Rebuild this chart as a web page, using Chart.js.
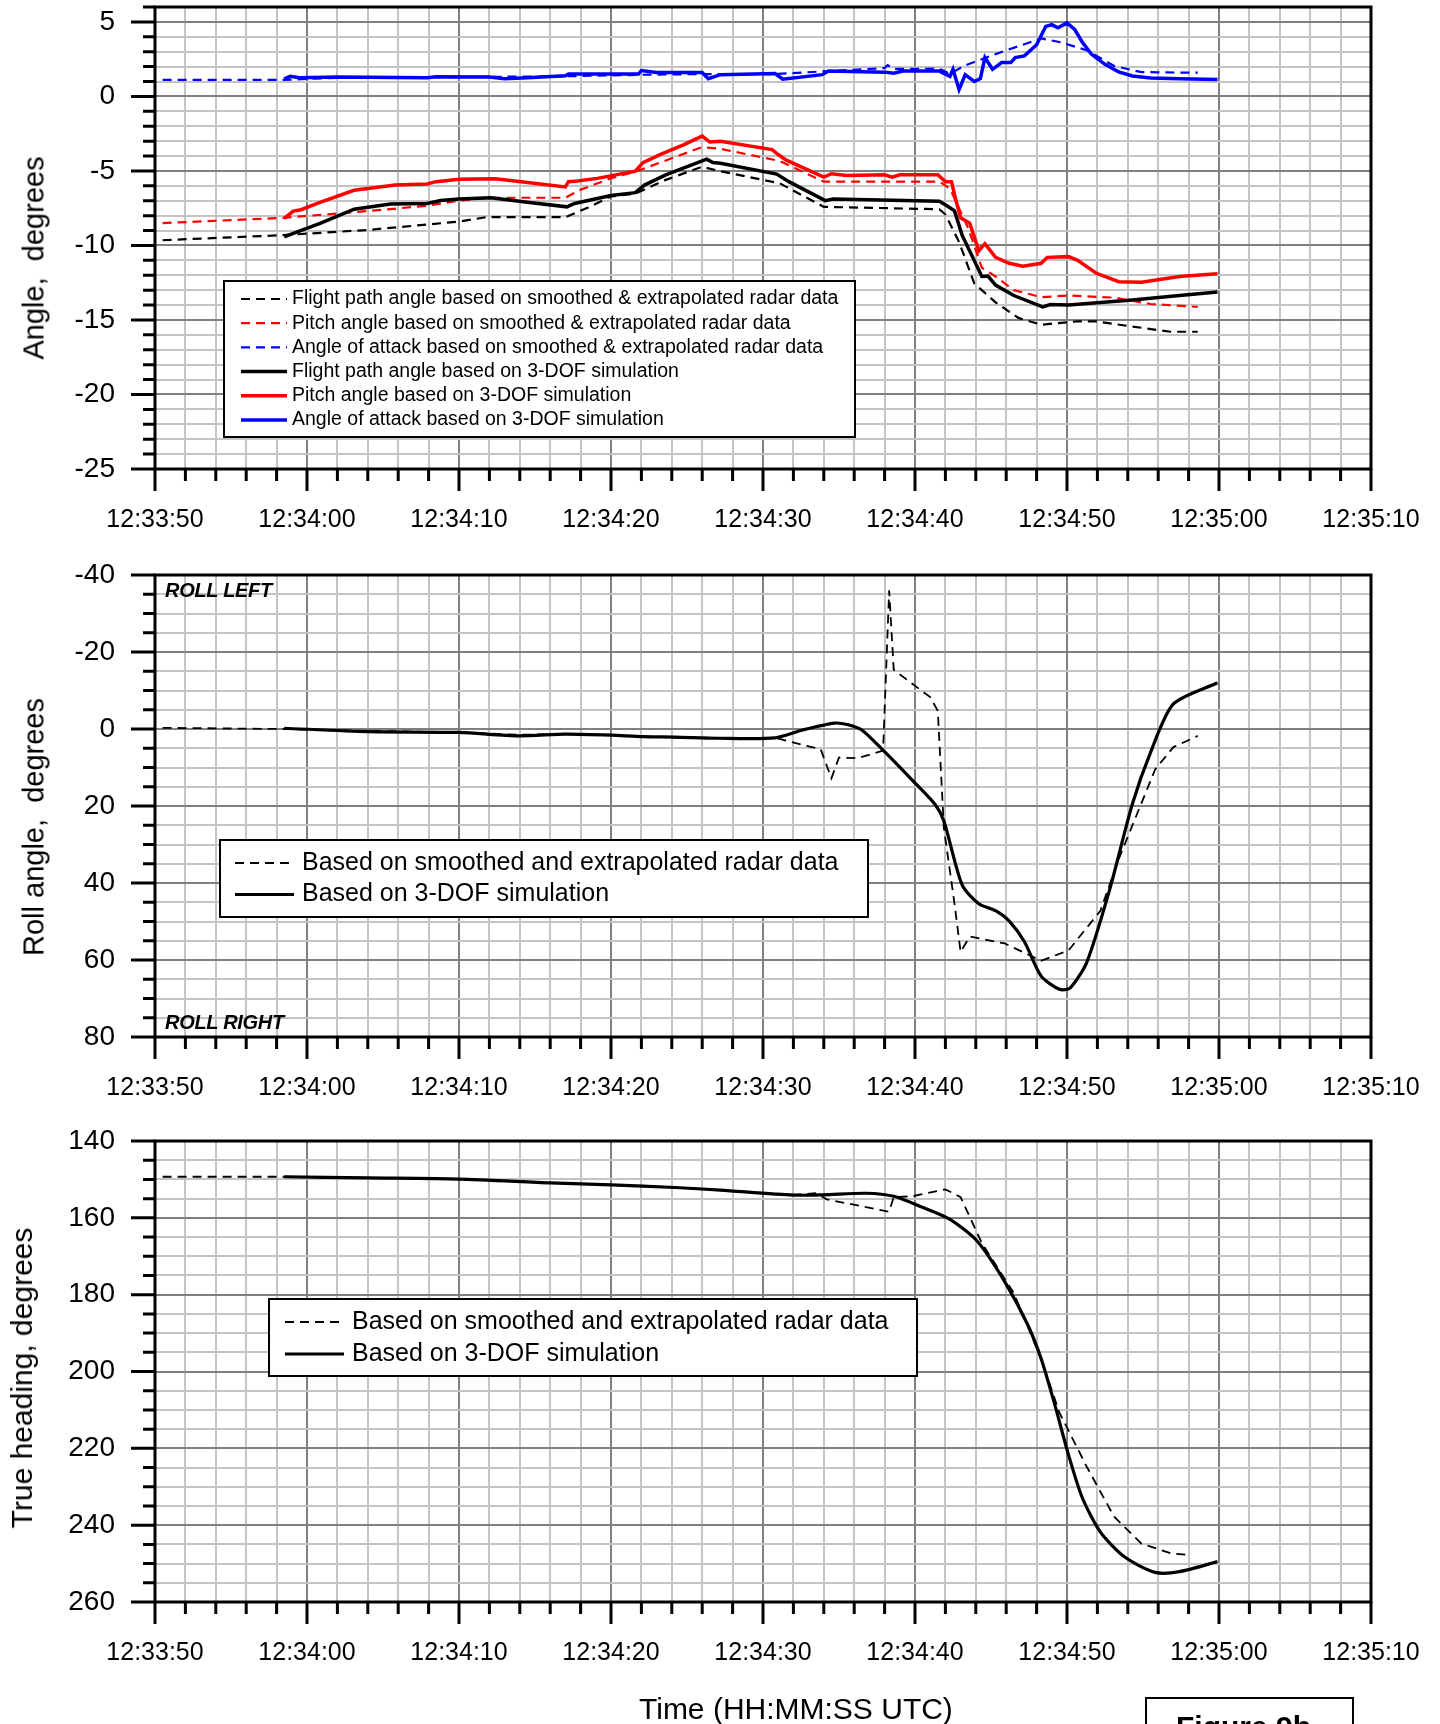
<!DOCTYPE html>
<html>
<head>
<meta charset="utf-8">
<title>Angles, roll and heading</title>
<script src="https://cdn.jsdelivr.net/npm/chart.js@4.4.0/dist/chart.umd.min.js"></script>
<style>
html, body { margin: 0; padding: 0; background: #fff; }
body { position: relative; width: 1440px; height: 1724px; overflow: hidden; font-family: "Liberation Sans", Arial, sans-serif; color: #000; }
canvas { position: absolute; left: 0; }
.ytitle { position: absolute; white-space: nowrap; transform: translate(-50%, -50%) rotate(-90deg); font-size: 29px; }
.roll { position: absolute; font-weight: bold; font-style: italic; font-size: 20px; line-height: 20px; letter-spacing: -0.3px; white-space: nowrap; }
#xtitle { position: absolute; left: 639px; top: 1694px; font-size: 30px; line-height: 30px; white-space: nowrap; }
#fig { position: absolute; left: 1145px; top: 1697px; width: 209px; height: 60px; box-sizing: border-box; border: 2px solid #000; padding: 10px 12px 0 0; text-align: center; font-weight: bold; font-size: 30px; line-height: 36px; }
</style>
</head>
<body>
<canvas id="angles" width="1440" height="560" style="top:0px"></canvas>
<canvas id="roll" width="1440" height="565" style="top:560px"></canvas>
<canvas id="heading" width="1440" height="599" style="top:1125px"></canvas>

<div class="ytitle" style="left:34px; top:258px">Angle,&nbsp; degrees</div>
<div class="ytitle" style="left:34px; top:827px">Roll angle,&nbsp; degrees</div>
<div class="ytitle" style="left:22px; top:1378px; font-size:30px">True heading, degrees</div>
<div class="roll" style="left:165px; top:580px">ROLL LEFT</div>
<div class="roll" style="left:165px; top:1012px">ROLL RIGHT</div>
<div id="xtitle">Time (HH:MM:SS UTC)</div>
<div id="fig">Figure 9b</div>

<script>
Chart.defaults.font.family = '"Liberation Sans", Arial, sans-serif';
Chart.defaults.color = '#000';

var timeLabels = ['12:33:50', '12:34:00', '12:34:10', '12:34:20', '12:34:30', '12:34:40', '12:34:50', '12:35:00', '12:35:10'];

// time is in seconds after 12:33:50

// flight path angle, radar
var fpaRadarSec = [0.5, 8.4, 14.0, 20.0, 21.8, 27.0, 28.5, 30.0, 31.6, 33.6, 36.0, 37.2, 41.1, 44.0, 51.6, 52.0, 52.9, 53.9, 55.3, 56.8, 58.3, 60.7, 61.9, 64.3, 66.8, 68.6];
var fpaRadarDeg = [-9.65, -9.31, -8.96, -8.4, -8.1, -8.1, -7.45, -6.71, -6.53, -5.6, -4.72, -5.02, -5.83, -7.41, -7.57, -7.92, -9.77, -12.55, -13.82, -14.86, -15.32, -15.09, -15.1, -15.44, -15.79, -15.79];

// pitch angle, radar
var pitchRadarSec = [0.5, 8.4, 14.0, 17.9, 20.0, 22.0, 27.0, 27.9, 30.0, 31.6, 36.0, 37.2, 41.1, 44.0, 51.6, 52.3, 53.5, 54.4, 55.3, 56.5, 58.3, 60.1, 63.1, 65.5, 68.6];
var pitchRadarDeg = [-8.5, -8.15, -7.69, -7.34, -6.99, -6.8, -6.8, -6.3, -5.49, -5.05, -3.4, -3.52, -4.33, -5.72, -5.72, -6.18, -8.84, -11.5, -12.08, -13.0, -13.47, -13.36, -13.5, -13.93, -14.12];

// angle of attack, radar
var aoaRadarSec = [0.5, 8.4, 12.0, 20.0, 27.0, 31.8, 36.0, 40.8, 44.3, 48.0, 48.2, 48.6, 51.6, 52.3, 53.2, 55.3, 58.3, 59.5, 61.3, 63.1, 64.9, 68.6];
var aoaRadarDeg = [1.11, 1.11, 1.25, 1.3, 1.35, 1.45, 1.5, 1.5, 1.7, 1.9, 2.1, 1.85, 1.86, 1.5, 2.04, 2.84, 3.89, 3.65, 3.1, 2.04, 1.63, 1.59];

// flight path angle, 3-DOF
var fpaSimSec = [8.5, 9.1, 10.9, 13.1, 15.5, 17.9, 18.8, 20.0, 22.1, 24.5, 27.1, 27.6, 30.0, 31.6, 32.2, 33.6, 35.1, 36.3, 36.7, 37.2, 40.9, 41.7, 44.1, 44.6, 51.6, 52.1, 52.6, 53.1, 54.4, 54.8, 55.3, 56.5, 58.4, 58.9, 60.1, 64.3, 67.4, 69.9];
var fpaSimDeg = [-9.42, -9.19, -8.5, -7.57, -7.22, -7.18, -6.99, -6.88, -6.8, -7.1, -7.41, -7.18, -6.65, -6.46, -5.95, -5.26, -4.68, -4.21, -4.44, -4.49, -5.21, -5.72, -6.99, -6.88, -7.04, -7.34, -7.68, -9.31, -12.08, -12.05, -12.66, -13.36, -14.12, -13.97, -14.0, -13.66, -13.36, -13.12];

// pitch angle, 3-DOF
var pitchSimSec = [8.5, 9.1, 9.6, 10.9, 13.1, 15.8, 17.9, 18.5, 20.0, 22.4, 24.5, 27.0, 27.2, 27.8, 29.1, 31.6, 32.1, 33.3, 34.8, 36.0, 36.5, 37.2, 40.6, 41.0, 41.5, 44.0, 44.5, 45.5, 48.0, 48.5, 49.0, 51.5, 52.0, 52.4, 52.7, 53.0, 53.6, 54.2, 54.6, 55.3, 56.2, 57.1, 58.3, 58.7, 60.1, 60.7, 61.9, 63.4, 64.9, 67.4, 69.9];
var pitchSimDeg = [-8.19, -7.69, -7.6, -7.1, -6.3, -5.95, -5.88, -5.72, -5.56, -5.53, -5.78, -6.07, -5.72, -5.68, -5.5, -5.02, -4.44, -3.87, -3.24, -2.66, -3.06, -3.01, -3.57, -3.9, -4.26, -5.42, -5.19, -5.3, -5.26, -5.42, -5.26, -5.26, -5.72, -5.72, -6.99, -8.15, -8.5, -10.35, -9.88, -10.8, -11.2, -11.39, -11.2, -10.8, -10.75, -11.0, -11.85, -12.43, -12.47, -12.08, -11.9];

// angle of attack, 3-DOF
var aoaSimSec = [8.5, 8.9, 9.5, 12.0, 17.9, 18.5, 22.0, 23.0, 24.5, 27.0, 27.2, 31.8, 32.0, 33.0, 36.0, 36.4, 37.2, 40.8, 41.3, 43.9, 44.3, 48.0, 48.6, 49.2, 51.6, 52.3, 52.5, 52.9, 53.3, 53.9, 54.3, 54.6, 55.1, 55.7, 56.3, 56.6, 57.2, 58.0, 58.6, 59.0, 59.4, 60.0, 60.5, 61.0, 61.6, 62.5, 63.4, 64.3, 65.5, 67.4, 69.9];
var aoaSimDeg = [1.18, 1.35, 1.25, 1.3, 1.25, 1.32, 1.3, 1.19, 1.25, 1.39, 1.5, 1.5, 1.73, 1.6, 1.6, 1.19, 1.46, 1.53, 1.16, 1.46, 1.7, 1.63, 1.55, 1.7, 1.7, 1.35, 1.82, 0.46, 1.46, 1.0, 1.2, 2.61, 1.82, 2.27, 2.27, 2.61, 2.72, 3.47, 4.7, 4.81, 4.6, 4.93, 4.5, 3.65, 2.84, 2.15, 1.64, 1.37, 1.23, 1.18, 1.13];

// roll angle (negative = left)
var rollRadarSec = [0.5, 8.5, 14.0, 20.0, 24.0, 27.0, 30.0, 34.0, 37.2, 40.8, 43.8, 44.5, 45.0, 46.2, 47.9, 48.3, 48.6, 49.8, 51.0, 51.5, 51.9, 52.6, 53.0, 53.6, 55.9, 58.3, 60.1, 62.2, 63.4, 65.8, 67.0, 68.6];
var rollRadarDeg = [-0.3, 0.0, 0.5, 0.9, 1.5, 1.3, 1.6, 2.2, 2.3, 2.3, 5.3, 12.8, 7.4, 7.6, 5.6, -36.0, -15.4, -11.8, -8.3, -4.7, 25.7, 45.4, 57.9, 53.9, 55.7, 60.2, 57.5, 47.2, 33.8, 10.5, 4.7, 1.8];
var rollSimSec = [8.5, 14.0, 20.0, 23.9, 27.0, 30.0, 32.1, 34.2, 37.0, 40.8, 42.6, 44.7, 45.6, 46.5, 47.7, 49.8, 51.3, 51.9, 53.1, 54.2, 55.3, 56.2, 57.2, 58.3, 59.5, 60.2, 61.3, 62.8, 64.3, 65.5, 67.0, 69.9];
var rollSimDeg = [-0.2, 0.7, 0.9, 1.77, 1.33, 1.6, 2.0, 2.1, 2.4, 2.3, 0.26, -1.53, -1.1, 0.26, 4.73, 13.2, 19.5, 23.9, 40.5, 45.4, 47.2, 49.9, 55.25, 64.2, 67.6, 67.3, 60.6, 41.8, 19.5, 6.05, -6.5, -12.0];

// true heading
var headingRadarSec = [0.5, 8.5, 14.0, 20.0, 26.0, 30.0, 34.2, 37.2, 42.0, 43.5, 44.2, 48.3, 48.6, 49.8, 52.0, 53.0, 54.4, 56.5, 58.3, 59.5, 61.3, 63.1, 64.9, 66.8, 68.1];
var headingRadarDeg = [149.3, 149.3, 149.6, 149.9, 150.9, 151.4, 152.1, 152.8, 154.0, 153.6, 155.2, 158.4, 154.6, 154.4, 152.6, 154.6, 166.6, 179.6, 196.7, 210.7, 224.8, 237.8, 244.8, 247.3, 247.8];
var headingSimSec = [8.5, 14.0, 20.0, 26.0, 30.0, 34.2, 37.2, 42.0, 44.0, 46.8, 48.6, 50.4, 52.3, 54.1, 55.9, 57.4, 58.3, 59.2, 60.1, 61.0, 62.2, 63.8, 65.8, 67.4, 69.9];
var headingSimDeg = [149.3, 149.6, 149.9, 150.9, 151.4, 152.1, 152.8, 154.1, 154.0, 153.6, 154.4, 157.1, 160.4, 166.1, 176.6, 187.7, 196.7, 208.7, 221.7, 232.8, 241.8, 248.3, 252.3, 252.1, 249.5];

var majorGrid = '#808080';
var minorGrid = '#c4c4c4';

function points(sec, deg) {
    return sec.map(function (s, i) { return { x: s, y: deg[i] }; });
}

function line(label, sec, deg, color, dashed, width, tension) {
    return {
        label: label,
        data: points(sec, deg),
        borderColor: color,
        borderWidth: width,
        borderDash: dashed ? [9, 6] : [],
        pointRadius: 0,
        tension: tension || 0,
        fill: false,
        order: dashed ? 1 : 0 // solid lines on top
    };
}

function xAxis(height) {
    return {
        type: 'linear',
        min: 0,
        max: 80,
        afterFit: function (s) { s.height = height; s.paddingLeft = 0; s.paddingRight = 0; },
        ticks: {
            stepSize: 2,
            autoSkip: false,
            maxRotation: 0,
            minRotation: 0,
            padding: 36,
            font: { size: 25 },
            callback: function (v) { return v % 10 === 0 ? timeLabels[v / 10] : ''; }
        },
        grid: {
            drawTicks: false,
            lineWidth: 2,
            color: function (c) { return c.tick && c.tick.value % 10 === 0 ? majorGrid : minorGrid; }
        },
        border: { display: false }
    };
}

function yAxis(min, max, step, major, reverse) {
    return {
        type: 'linear',
        min: min,
        max: max,
        reverse: reverse,
        afterFit: function (s) { s.width = 155; s.paddingTop = 0; s.paddingBottom = 0; },
        ticks: {
            stepSize: step,
            autoSkip: false,
            padding: 40,
            font: { size: 28 },
            callback: function (v) { return v % major === 0 ? String(v) : ''; }
        },
        grid: {
            drawTicks: false,
            lineWidth: 2,
            color: function (c) { return c.tick && c.tick.value % major === 0 ? majorGrid : minorGrid; }
        },
        border: { display: false }
    };
}

// black frame round the plot and the outside tick marks
var frameTicks = {
    id: 'frameTicks',
    afterDraw: function (chart, args, opts) {
        var ctx = chart.ctx, a = chart.chartArea;
        var xs = chart.scales.x, ys = chart.scales.y;
        ctx.save();
        ctx.strokeStyle = '#000';
        ctx.lineWidth = 3;
        ctx.beginPath();
        xs.ticks.forEach(function (t) {
            var px = xs.getPixelForValue(t.value);
            ctx.moveTo(px, a.bottom);
            ctx.lineTo(px, a.bottom + (t.value % 10 === 0 ? 22 : 12));
        });
        ys.ticks.forEach(function (t) {
            var py = ys.getPixelForValue(t.value);
            ctx.moveTo(a.left, py);
            ctx.lineTo(a.left - (t.value % opts.yMajor === 0 ? 24 : 12), py);
        });
        ctx.stroke();
        ctx.strokeRect(a.left, a.top, a.right - a.left, a.bottom - a.top);
        ctx.restore();
    }
};

// legend in a framed white box inside the plot
var boxLegend = {
    id: 'boxLegend',
    afterDatasetsDraw: function (chart, args, o) {
        var ctx = chart.ctx;
        ctx.save();
        ctx.fillStyle = '#fff';
        ctx.fillRect(o.left, o.top, o.width, o.height);
        ctx.strokeStyle = '#000';
        ctx.lineWidth = 2;
        ctx.strokeRect(o.left, o.top, o.width, o.height);
        ctx.font = o.fontSize + 'px "Liberation Sans", Arial, sans-serif';
        ctx.textBaseline = 'middle';
        chart.data.datasets.forEach(function (ds, i) {
            var y = o.firstRow + i * o.rowGap;
            ctx.beginPath();
            ctx.setLineDash(ds.borderDash);
            ctx.strokeStyle = ds.borderColor;
            ctx.lineWidth = ds.borderWidth;
            ctx.moveTo(o.lineFrom, y);
            ctx.lineTo(o.lineTo, y);
            ctx.stroke();
            ctx.setLineDash([]);
            ctx.fillStyle = '#000';
            ctx.fillText(ds.label, o.textX, y);
        });
        ctx.restore();
    }
};

function makeChart(id, datasets, y, padTop, xHeight, yMajor, legend) {
    var ctx = document.getElementById(id).getContext('2d');
    return new Chart(ctx, {
        type: 'line',
        data: { datasets: datasets },
        options: {
            responsive: false,
            animation: false,
            devicePixelRatio: 1,
            layout: { padding: { top: padTop, right: 69, bottom: 0, left: 0 } },
            scales: { x: xAxis(xHeight), y: y },
            plugins: {
                legend: { display: false },
                tooltip: { enabled: false },
                frameTicks: { yMajor: yMajor },
                boxLegend: legend
            }
        },
        plugins: [frameTicks, boxLegend]
    });
}

makeChart('angles', [
    line('Flight path angle based on smoothed & extrapolated radar data', fpaRadarSec, fpaRadarDeg, '#000', true, 2.2),
    line('Pitch angle based on smoothed & extrapolated radar data', pitchRadarSec, pitchRadarDeg, '#ff0000', true, 2.2),
    line('Angle of attack based on smoothed & extrapolated radar data', aoaRadarSec, aoaRadarDeg, '#0000ff', true, 2.2),
    line('Flight path angle based on 3-DOF simulation', fpaSimSec, fpaSimDeg, '#000', false, 3.5),
    line('Pitch angle based on 3-DOF simulation', pitchSimSec, pitchSimDeg, '#ff0000', false, 3.5),
    line('Angle of attack based on 3-DOF simulation', aoaSimSec, aoaSimDeg, '#0000ff', false, 3.5)
], yAxis(-25, 6, 1, 5, false), 7, 91, 5, {
    left: 224, top: 281, width: 631, height: 156,
    firstRow: 299, rowGap: 24.2, lineFrom: 241, lineTo: 287, textX: 292, fontSize: 19.5
});

makeChart('roll', [
    line('Based on smoothed and extrapolated radar data', rollRadarSec, rollRadarDeg, '#000', true, 1.8),
    line('Based on 3-DOF simulation', rollSimSec, rollSimDeg, '#000', false, 3.2, 0.25)
], yAxis(-40, 80, 5, 20, true), 15, 88, 20, {
    left: 220, top: 280, width: 648, height: 77,
    firstRow: 303, rowGap: 31.5, lineFrom: 235, lineTo: 294, textX: 302, fontSize: 25
});

makeChart('heading', [
    line('Based on smoothed and extrapolated radar data', headingRadarSec, headingRadarDeg, '#000', true, 1.8),
    line('Based on 3-DOF simulation', headingSimSec, headingSimDeg, '#000', false, 3.2, 0.25)
], yAxis(140, 260, 5, 20, true), 16, 122, 20, {
    left: 269, top: 174, width: 648, height: 77,
    firstRow: 197, rowGap: 32, lineFrom: 285, lineTo: 344, textX: 352, fontSize: 25
});
</script>
</body>
</html>
